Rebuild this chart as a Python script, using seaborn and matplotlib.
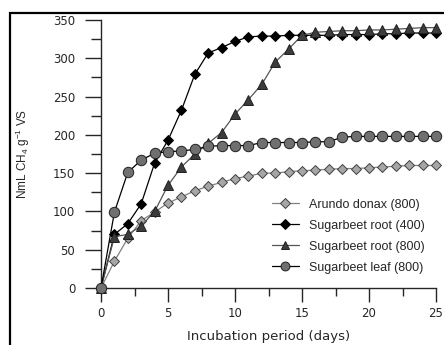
import numpy as np
import pandas as pd
import matplotlib
matplotlib.use("Agg")
import matplotlib.pyplot as plt
import seaborn as sns
from matplotlib.patches import Rectangle
from matplotlib.ticker import MultipleLocator

# Dados (dias 0..25)
days = list(range(26))
arundo_800 = [0, 35, 65, 88, 99, 111, 119, 127, 133, 138, 143, 146, 150, 150,
              152, 153, 154, 155, 156, 156, 157, 158, 159, 160, 160, 160]
root_400 = [0, 70, 84, 110, 163, 193, 232, 279, 307, 314, 322, 328, 329, 329,
            330, 330, 330, 330, 331, 331, 331, 332, 332, 333, 333, 333]
root_800 = [0, 67, 70, 81, 100, 134, 158, 175, 189, 203, 227, 246, 266, 295,
            312, 330, 334, 335, 336, 336, 337, 337, 338, 339, 340, 340]
leaf_800 = [0, 99, 151, 167, 176, 178, 179, 181, 185, 186, 186, 186, 190, 190,
            190, 190, 191, 191, 197, 198, 198, 198, 198, 198, 198, 198]

series_names = ["Arundo donax (800)", "Sugarbeet root (400)",
                "Sugarbeet root (800)", "Sugarbeet leaf (800)"]

sns.set_style("ticks")
plt.rcParams['font.family'] = ['Liberation Sans', 'DejaVu Sans']
plt.rcParams['mathtext.fontset'] = 'custom'
plt.rcParams['mathtext.rm'] = 'Liberation Sans'
plt.rcParams['mathtext.it'] = 'Liberation Sans:italic'
plt.rcParams['mathtext.default'] = 'regular'

fig = plt.figure(figsize=(4.44, 3.45), dpi=100)
ax = fig.add_axes([101 / 444, 57 / 345, 335 / 444, 268 / 345])

# moldura da figura
fig.patches.append(Rectangle((9.5 / 444, -0.1), 1.2, (345 - 13) / 345 + 0.1,
                             transform=fig.transFigure, fill=False,
                             edgecolor='black', linewidth=1.6))

styles = [
    dict(marker='D', color='#808080', markerfacecolor='#a6a6a6', markeredgecolor='#404040', ms=5.5),
    dict(marker='D', color='black', markerfacecolor='black', markeredgecolor='black', ms=5.5),
    dict(marker='^', color='#555555', markerfacecolor='#3c3c3c', markeredgecolor='#202020', ms=7),
    dict(marker='o', color='black', markerfacecolor='#707070', markeredgecolor='#202020', ms=7.5),
]
for vals, name, st in zip([arundo_800, root_400, root_800, leaf_800], series_names, styles):
    sns.lineplot(x=days, y=vals, ax=ax, label=name, linewidth=0.9,
                 markeredgewidth=0.7, clip_on=False, zorder=3, **st)

ax.set_xlim(0, 25)
ax.set_ylim(0, 350)
ax.xaxis.set_major_locator(MultipleLocator(5))
ax.xaxis.set_minor_locator(MultipleLocator(2.5))
ax.yaxis.set_major_locator(MultipleLocator(50))
ax.yaxis.set_minor_locator(MultipleLocator(25))
sns.despine(ax=ax)
for s in ['left', 'bottom']:
    ax.spines[s].set_linewidth(1.0)
ax.tick_params(axis='y', which='major', direction='out', length=11.5, width=1.0, pad=7, labelsize=8.5)
ax.tick_params(axis='y', which='minor', direction='out', length=7.5, width=1.0)
ax.tick_params(axis='x', which='major', direction='out', length=10, width=1.0, pad=4, labelsize=8.5)
ax.tick_params(axis='x', which='minor', direction='out', length=6, width=1.0)
for lab in ax.get_xticklabels() + ax.get_yticklabels():
    lab.set_fontfamily('DejaVu Sans')

ax.set_xlabel("Incubation period (days)", fontsize=9.5, labelpad=7,
              fontfamily='DejaVu Sans')
ax.set_ylabel("NmL CH$_4$ g$^{-1}$ VS", fontsize=8.5, labelpad=15)

leg = ax.legend(loc='lower right', bbox_to_anchor=(1.0, 0.012), frameon=False,
                fontsize=9, handlelength=2.2, labelspacing=0.72, handletextpad=0.8,
                markerscale=0.85)

fig.savefig("out.png", dpi=100)
